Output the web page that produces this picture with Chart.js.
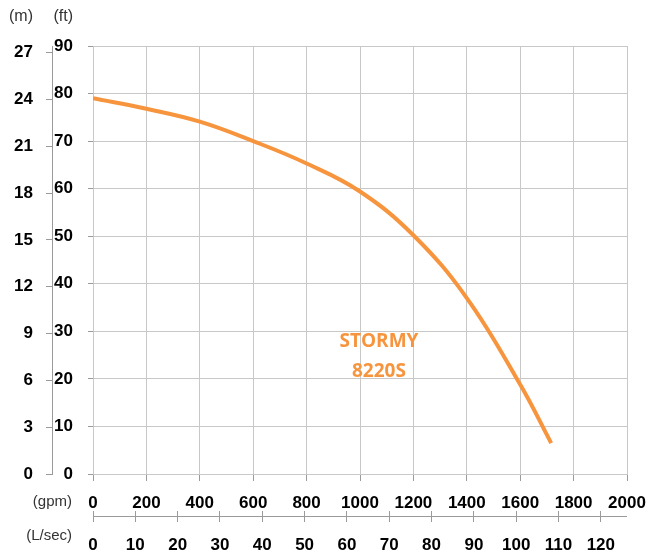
<!DOCTYPE html>
<html>
<head>
<meta charset="utf-8">
<script src="https://cdn.jsdelivr.net/npm/chart.js@4.4.1/dist/chart.umd.min.js"></script>
<style>
  html, body { margin: 0; padding: 0; background: #fff; }
</style>
</head>
<body>
<canvas id="pumpChart" width="655" height="557"></canvas>
<script>
// pump curve (flow in gpm, head in ft)
const flowGpm = [0, 200, 400, 600, 800, 1000, 1200, 1400, 1600, 1716];
const headFt  = [79.0, 76.8, 74.1, 70.0, 65.3, 59.4, 50.2, 37.0, 18.8, 6.5];

// tick labels
const gpmTicks  = [0, 200, 400, 600, 800, 1000, 1200, 1400, 1600, 1800, 2000];
const lsecTicks = [0, 10, 20, 30, 40, 50, 60, 70, 80, 90, 100, 110, 120];
const ftTicks   = [0, 10, 20, 30, 40, 50, 60, 70, 80, 90];
const mTicks    = [0, 3, 6, 9, 12, 15, 18, 21, 24, 27];

const curveName = ['STORMY', '8220S'];

const GPM_TO_LSEC = 0.0630902;
const FT_TO_M = 0.3048;

const orange = '#f7943e';
const gridGrey = '#c8c8c8';
const tickGrey = '#9a9a9a';
const tickFont = { family: 'Liberation Sans, Arial, sans-serif', size: 17, weight: 'bold' };

const setTicks = (list) => (scale) => { scale.ticks = list.map(v => ({ value: v })); };
const plain = (v) => String(v);

// extra text and the L/sec axis line
const extras = {
  id: 'extras',
  afterDraw(chart) {
    const ctx = chart.ctx;
    const { x, x2, y, y2 } = chart.scales;
    ctx.save();

    // L/sec axis line runs through the middle of its ticks
    ctx.strokeStyle = tickGrey;
    ctx.lineWidth = 1;
    ctx.beginPath();
    ctx.moveTo(x2.left, x2.top + 5.5);
    ctx.lineTo(x2.right, x2.top + 5.5);
    ctx.stroke();

    // unit labels
    ctx.fillStyle = '#333';
    ctx.font = '16px Liberation Sans, Arial, sans-serif';
    ctx.textAlign = 'right';
    ctx.textBaseline = 'middle';
    ctx.fillText('(m)', y2.right - 6 - 13, 17);
    ctx.fillText('(ft)', y.right - 5 - 15, 17);
    ctx.font = '15px Liberation Sans, Arial, sans-serif';
    ctx.fillText('(gpm)', 72, 502);
    ctx.fillText('(L/sec)', 72, 536);

    // curve name
    ctx.fillStyle = orange;
    ctx.font = 'bold 19px Open Sans, sans-serif';
    ctx.textAlign = 'center';
    ctx.fillText(curveName[0], x.getPixelForValue(1071), y.getPixelForValue(27.8));
    ctx.fillText(curveName[1], x.getPixelForValue(1071), y.getPixelForValue(21.5));
    ctx.restore();
  }
};

new Chart(document.getElementById('pumpChart'), {
  type: 'scatter',
  data: {
    datasets: [{
      data: flowGpm.map((q, i) => ({ x: q, y: headFt[i] })),
      showLine: true,
      borderColor: orange,
      borderWidth: 4,
      pointRadius: 0,
      tension: 0.4,
      xAxisID: 'x',
      yAxisID: 'y'
    }]
  },
  options: {
    responsive: false,
    animation: false,
    devicePixelRatio: 1,
    layout: { padding: { top: 46, right: 28, left: 0, bottom: 0 } },
    plugins: { legend: { display: false }, tooltip: { enabled: false } },
    scales: {
      x: {
        type: 'linear', position: 'bottom', weight: 0,
        min: 0, max: 2000,
        afterBuildTicks: setTicks(gpmTicks),
        afterFit: (s) => { s.height = 37; s.paddingLeft = 0; s.paddingRight = 0; },
        grid: { color: gridGrey, tickColor: tickGrey, tickLength: 7 },
        border: { color: gridGrey },
        ticks: { font: tickFont, color: '#000', padding: 12, maxRotation: 0, autoSkip: false, callback: plain }
      },
      x2: {
        type: 'linear', position: 'bottom', weight: 1,
        min: 0, max: 2000 * GPM_TO_LSEC,
        afterBuildTicks: setTicks(lsecTicks),
        afterFit: (s) => { s.height = 46; s.paddingLeft = 0; s.paddingRight = 0; },
        grid: { drawOnChartArea: false, tickColor: tickGrey, tickLength: 11 },
        border: { display: false },
        ticks: { font: tickFont, color: '#000', padding: 13, maxRotation: 0, autoSkip: false, callback: plain }
      },
      y: {
        type: 'linear', position: 'left', weight: 0,
        min: 0, max: 90,
        afterBuildTicks: setTicks(ftTicks),
        afterFit: (s) => { s.width = 41; },
        grid: { color: gridGrey, tickColor: tickGrey, tickLength: 5 },
        border: { color: gridGrey },
        ticks: { font: tickFont, color: '#000', padding: 15, autoSkip: false, callback: plain }
      },
      y2: {
        type: 'linear', position: 'left', weight: 1,
        min: 0, max: 90 * FT_TO_M,
        afterBuildTicks: setTicks(mTicks),
        afterFit: (s) => { s.width = 52; },
        grid: { drawOnChartArea: false, tickColor: tickGrey, tickLength: 6 },
        border: { color: tickGrey },
        ticks: { font: tickFont, color: '#000', padding: 13, autoSkip: false, callback: plain }
      }
    }
  },
  plugins: [extras]
});
</script>
</body>
</html>
